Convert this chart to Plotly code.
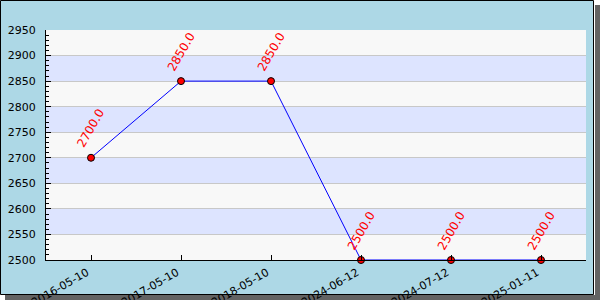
import plotly.graph_objects as go

# ---- data ----
dates = ["2016-05-10", "2017-05-10", "2018-05-10", "2024-06-12", "2024-07-12", "2025-01-11"]
values = [2700.0, 2850.0, 2850.0, 2500.0, 2500.0, 2500.0]
y_ticks = [2500, 2550, 2600, 2650, 2700, 2750, 2800, 2850, 2900, 2950]

# ---- layout geometry (pixels) ----
W, H = 600, 300
L, R, T, B = 46, 14, 30, 40
PW, PH = W - L - R, H - T - B


def px(x):
    return (x - L) / PW


def py(y):
    return (H - B - y) / PH


FONT = "DejaVu Sans"
band_colors = ["#F8F8F8", "#DDE4FF"]

shapes = []
# drop shadow (right & bottom)
shapes.append(dict(type="rect", xref="paper", yref="paper", layer="below",
                   x0=px(595), x1=px(600), y0=py(300), y1=py(5),
                   fillcolor="#636363", line=dict(width=0)))
shapes.append(dict(type="rect", xref="paper", yref="paper", layer="below",
                   x0=px(5), x1=px(600), y0=py(300), y1=py(295),
                   fillcolor="#636363", line=dict(width=0)))
# chart background with border
shapes.append(dict(type="rect", xref="paper", yref="paper", layer="below",
                   x0=px(0.5), x1=px(593.5), y0=py(294.5), y1=py(0.5),
                   fillcolor="#ADD8E6", line=dict(color="black", width=1)))
# alternating horizontal bands
for i in range(len(y_ticks) - 1):
    shapes.append(dict(type="rect", xref="x domain", yref="y", layer="below",
                       x0=0, x1=1, y0=y_ticks[i], y1=y_ticks[i + 1],
                       fillcolor=band_colors[i % 2], line=dict(width=0)))

fig = go.Figure()
fig.add_trace(go.Scatter(
    x=dates, y=values, mode="lines+markers",
    line=dict(color="blue", width=1),
    marker=dict(color="red", size=7, line=dict(color="black", width=1)),
    cliponaxis=False, hoverinfo="skip",
))

annotations = []
for d, v in zip(dates, values):
    annotations.append(dict(
        x=d, y=v, xref="x", yref="y", text=f"{v:.1f}", showarrow=False,
        textangle=-60, xanchor="center", yanchor="bottom", yshift=5,
        font=dict(family=FONT, size=12, color="red"),
    ))

fig.update_layout(
    width=W, height=H,
    margin=dict(l=L, r=R, t=T, b=B, pad=0, autoexpand=False),
    paper_bgcolor="white",
    plot_bgcolor="rgba(0,0,0,0)",
    showlegend=False,
    shapes=shapes,
    annotations=annotations,
    font=dict(family=FONT, size=11, color="black"),
    xaxis=dict(
        type="category", range=[-0.5, len(dates) - 0.5], automargin=False,
        showgrid=False, zeroline=False,
        showline=True, linecolor="black", linewidth=1,
        ticks="inside", ticklen=5, tickcolor="black", tickwidth=1,
        tickangle=-30, ticklabelshift=-4, ticklabelstandoff=1,
        tickfont=dict(family=FONT, size=11, color="black"),
    ),
    yaxis=dict(
        range=[y_ticks[0], y_ticks[-1]], tickvals=y_ticks, automargin=False,
        showgrid=True, gridcolor="#C8C8C8", gridwidth=1, zeroline=False,
        showline=True, linecolor="black", linewidth=1,
        ticks="inside", ticklen=5, tickcolor="black", tickwidth=1,
        ticklabelstandoff=7,
        minor=dict(ticks="inside", dtick=10, ticklen=3, tickcolor="black", showgrid=False),
        tickfont=dict(family=FONT, size=11, color="black"),
    ),
)

fig.write_html("out.html")
